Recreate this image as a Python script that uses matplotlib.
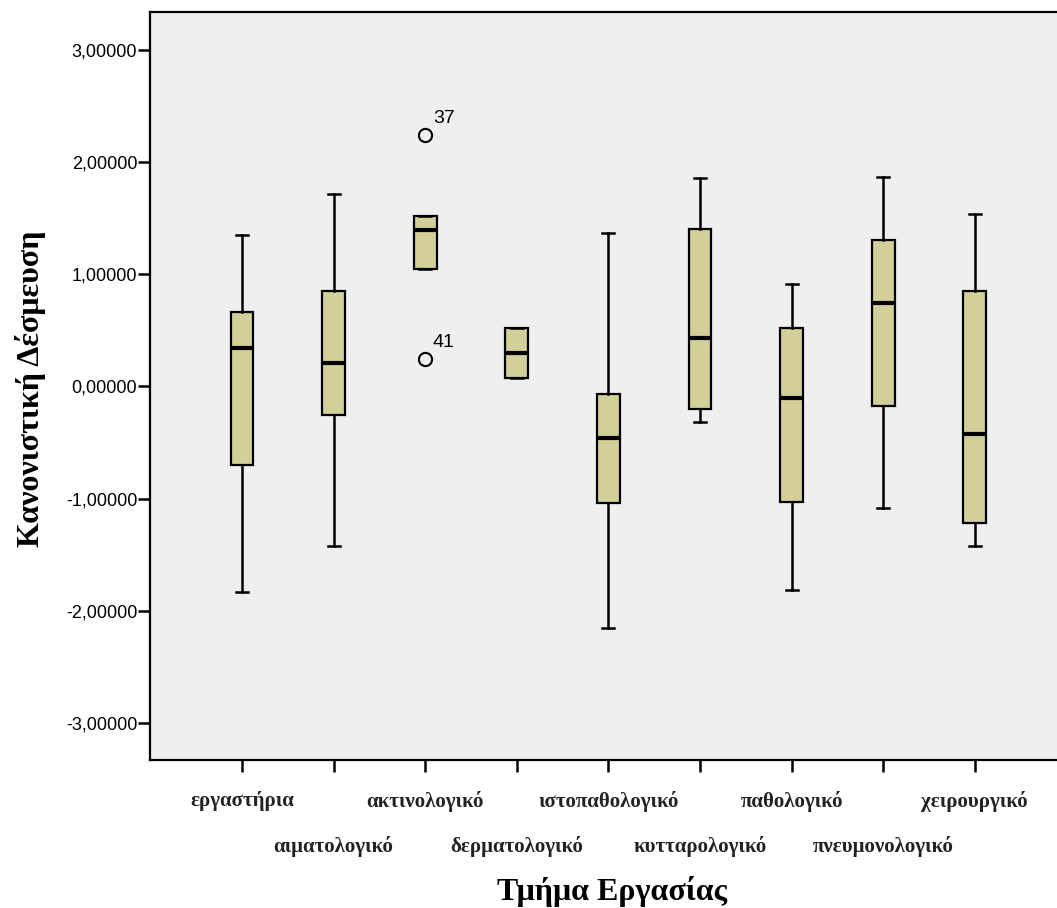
import matplotlib
matplotlib.use("Agg")
import matplotlib.pyplot as plt

# ---- data ----
categories = ["εργαστήρια", "αιματολογικό", "ακτινολογικό", "δερματολογικό",
              "ιστοπαθολογικό", "κυτταρολογικό", "παθολογικό", "πνευμονολογικό",
              "χειρουργικό"]
whisker_low = [-1.83, -1.42, 1.045, 0.073, -2.155, -0.32, -1.814, -1.086, -1.419]
q1 = [-0.70, -0.254, 1.045, 0.073, -1.041, -0.20, -1.032, -0.174, -1.214]
medians = [0.34, 0.212, 1.395, 0.301, -0.456, 0.43, -0.105, 0.742, -0.42]
q3 = [0.66, 0.854, 1.52, 0.524, -0.07, 1.404, 0.524, 1.306, 0.851]
whisker_high = [1.35, 1.72, 1.52, 0.524, 1.37, 1.86, 0.911, 1.87, 1.535]
outlier_values = [[], [], [2.24, 0.245], [], [], [], [], [], []]
outlier_ids = [[], [], ["37", "41"], [], [], [], [], [], []]
y_ticks = [3, 2, 1, 0, -1, -2, -3]
y_tick_labels = ["3,00000", "2,00000", "1,00000", "0,00000", "-1,00000", "-2,00000", "-3,00000"]
x_title = "Τμήμα Εργασίας"
y_title = "Κανονιστική Δέσμευση"

BOX_COLOR = "#D3CF98"
BG_COLOR = "#EFEFEF"

W, H = 1057, 908
fig = plt.figure(figsize=(W / 100, H / 100), dpi=100)
left, right, top, bottom = 150.4, 1066.4, 12.3, 760.0
ax = fig.add_axes([left / W, 1 - bottom / H, (right - left) / W, (bottom - top) / H])
ax.set_facecolor(BG_COLOR)

positions = list(range(1, len(categories) + 1))
stats = []
for i, name in enumerate(categories):
    stats.append(dict(label=name, med=medians[i], q1=q1[i], q3=q3[i],
                      whislo=whisker_low[i], whishi=whisker_high[i],
                      fliers=outlier_values[i]))

ax.bxp(stats, positions=positions, widths=0.25, capwidths=0.13,
       patch_artist=True, showfliers=True,
       boxprops=dict(facecolor=BOX_COLOR, edgecolor="black", linewidth=1.6),
       medianprops=dict(color="black", linewidth=3.0, solid_capstyle="butt"),
       whiskerprops=dict(color="black", linewidth=1.8),
       capprops=dict(color="black", linewidth=1.8),
       flierprops=dict(marker="o", markersize=9.5, markerfacecolor="none",
                       markeredgecolor="black", markeredgewidth=1.5))

# outlier case labels
for i, (vals, ids) in enumerate(zip(outlier_values, outlier_ids)):
    for v, lab in zip(vals, ids):
        ax.annotate(lab, xy=(positions[i], v), xytext=(5.5, 6), textcoords="offset points",
                    fontsize=14, family="Liberation Sans", ha="left", va="bottom")

ax.set_xlim(0, 10)
ax.set_ylim(-3.329, 3.335)

ax.set_yticks(y_ticks)
ax.set_yticklabels(y_tick_labels, family="Liberation Sans", fontsize=13)
ax.set_xticks(positions)
ax.set_xticklabels(categories, family="Liberation Serif", fontweight="bold", fontsize=15,
                   color="#222222")
ax.tick_params(axis="both", direction="out", length=8.5, width=1.8, color="black")
ax.tick_params(axis="y", pad=1)
for k, t in enumerate(ax.xaxis.get_major_ticks()):
    t.set_pad(14 if k % 2 == 0 else 46.5)

for s in ["left", "bottom", "top", "right"]:
    ax.spines[s].set_linewidth(1.6)
    ax.spines[s].set_color("black")

ax.set_xlabel(x_title, family="Liberation Serif", fontweight="bold", fontsize=23)
ax.xaxis.set_label_coords(0.504, -0.155)
ax.set_ylabel(y_title, family="Liberation Serif", fontweight="bold", fontsize=23)
ax.yaxis.set_label_coords(-0.114, 0.497)

fig.savefig("out.png", dpi=100)
